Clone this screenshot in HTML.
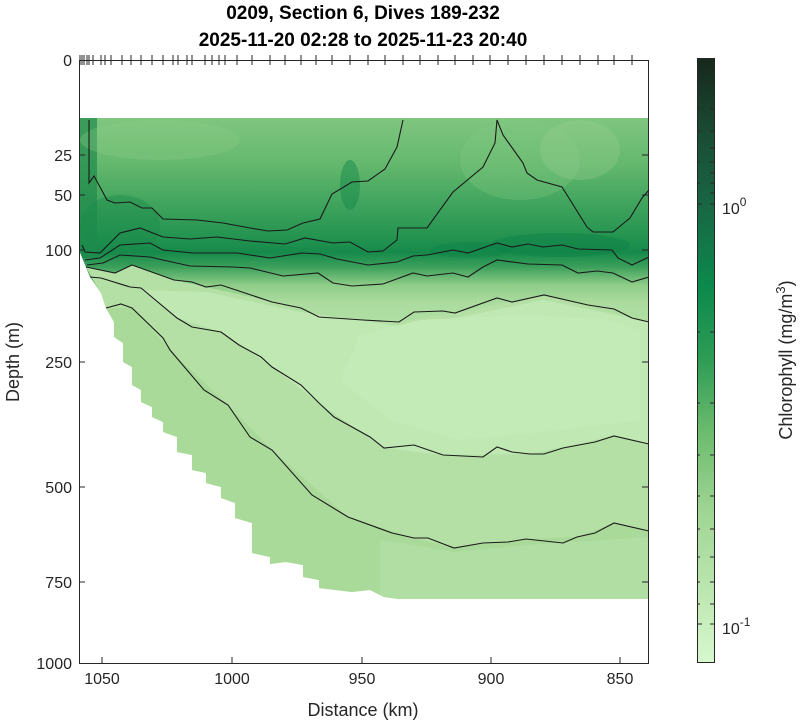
<!DOCTYPE html>
<html><head><meta charset="utf-8"><style>
html,body{margin:0;padding:0;background:#fff;}
svg{display:block;font-family:"Liberation Sans",Arial,sans-serif;}
</style></head><body>
<svg width="800" height="723" viewBox="0 0 800 723" xmlns="http://www.w3.org/2000/svg">
<defs>
<clipPath id="dc">
<polygon points="79,118 649,118 649,599 399,599 384,597 370,590 352,592 319,588 319,580 303,577 303,565 286,562 270,564 270,557 252,553 252,523 235,518 235,503 221,498 221,487 206,483 206,473 192,470 192,455 177,452 177,437 163,432 163,422 152,417 152,407 141,402 141,390 132,385 132,367 123,362 123,343 114,337 114,322 106,308 101,293 90,277 79,250"/>
</clipPath>
<linearGradient id="band" x1="0" y1="118" x2="0" y2="350" gradientUnits="userSpaceOnUse">
<stop offset="0" stop-color="#80c680"/>
<stop offset="0.2" stop-color="#64b86d"/>
<stop offset="0.35" stop-color="#44a65f"/>
<stop offset="0.5" stop-color="#269551"/>
<stop offset="0.58" stop-color="#168a4b"/>
<stop offset="0.64" stop-color="#3a9f5a"/>
<stop offset="0.72" stop-color="#8ecd88"/>
<stop offset="0.8" stop-color="#acdc9f"/>
<stop offset="1" stop-color="#b6e2a8"/>
</linearGradient>
<linearGradient id="cb" x1="0" y1="58" x2="0" y2="663" gradientUnits="userSpaceOnUse">
<stop offset="0" stop-color="#17271c"/>
<stop offset="0.12" stop-color="#1a4a32"/>
<stop offset="0.25" stop-color="#186844"/>
<stop offset="0.38" stop-color="#0c8a4c"/>
<stop offset="0.50" stop-color="#2f9c55"/>
<stop offset="0.62" stop-color="#6cbc6e"/>
<stop offset="0.75" stop-color="#9fd594"/>
<stop offset="0.88" stop-color="#bce6b0"/>
<stop offset="1" stop-color="#d8f8cf"/>
</linearGradient>
</defs>

<g clip-path="url(#dc)">
<rect x="79" y="118" width="570" height="482" fill="#a9da9a"/>
<rect x="79" y="118" width="570" height="232" fill="url(#band)"/>
<polygon fill="#b4e0a6" points="86,267 115,273 132,265 174,280 206,287 272,302 319,317 399,322 455,313 544,295 649,322 649,531 614,523 577,537 526,539 454,548 414,538 348,517 272,450 228,405 170,350 132,308 106,308 101,293"/>
<polygon fill="#bfe8b3" points="177,318 221,332 272,367 319,403 384,448 443,455 530,454 614,436 649,444 649,322 544,300 455,318 399,326 300,312 206,292 141,290"/>
<polygon fill="#c3ebb7" points="360,335 420,320 520,315 600,318 640,330 640,420 560,430 460,440 390,420 340,380"/>
<polygon fill="#a9da9a" points="0,300 106,308 132,308 170,350 228,405 272,450 312,495 348,517 414,538 454,548 526,539 577,537 614,523 649,531 649,700 0,700"/>
<polygon fill="#b1dea3" points="380,540 414,545 454,552 526,545 649,537 649,600 380,600"/>
<rect x="79" y="118" width="18" height="140" fill="#1f8a4c" opacity="0.7"/>
<ellipse cx="120" cy="225" rx="40" ry="30" fill="#1a8a4c" opacity="0.4"/>
<ellipse cx="350" cy="185" rx="10" ry="25" fill="#168a4c" opacity="0.5"/>
<ellipse cx="560" cy="245" rx="70" ry="12" fill="#0d8248" opacity="0.5"/>
<ellipse cx="470" cy="250" rx="40" ry="8" fill="#0d8248" opacity="0.4"/>
<ellipse cx="520" cy="160" rx="60" ry="40" fill="#86c983" opacity="0.3"/>
<ellipse cx="580" cy="150" rx="40" ry="30" fill="#9ad295" opacity="0.3"/>
<ellipse cx="160" cy="140" rx="80" ry="20" fill="#8fcc88" opacity="0.3"/>
</g>

<g fill="none" stroke="#1a1a1a" stroke-width="1.1">
<polyline points="89,120 89,183 94,176 100,187 107,200 115,203 130,202 142,208 152,208 163,219 197,220 223,223 250,228 268,231 287,230 303,223 320,219 332,194 352,182 368,181 385,169 397,147 403,120"/>
<polyline points="82,245 85,252 100,253 120,233 140,228 163,237 190,239 217,237 250,241 285,244 305,238 333,243 350,242 368,252 383,251 397,240 398,228 427,228 453,192 483,167 495,143 497,120 503,135 523,163 527,173 537,180 562,187 587,227 593,232 613,232 630,218 642,198 649,190"/>
<polyline points="85,260 100,258 120,245 150,243 163,250 193,253 237,253 270,258 302,253 320,254 337,259 368,265 397,262 413,256 427,255 453,250 468,253 497,243 512,247 528,244 543,247 562,245 578,249 612,250 618,258 632,265 649,257"/>
<polyline points="87,265 103,263 120,255 150,257 163,260 190,266 233,267 250,268 283,276 318,273 333,283 352,286 383,284 413,273 427,276 453,273 468,277 483,267 497,260 528,264 562,265 578,273 597,271 613,273 632,282 649,277"/>
<polyline points="86,267 115,273 132,265 174,280 192,282 206,287 221,285 272,302 301,308 319,317 363,320 399,322 414,312 443,311 455,313 497,298 512,302 544,295 588,305 614,309 632,318 649,322"/>
<polyline points="90,277 101,278 130,287 141,288 177,318 192,327 221,332 239,345 261,357 272,367 301,385 319,403 334,417 352,427 370,437 384,448 414,445 443,455 483,457 497,447 512,452 530,454 544,454 563,448 595,442 614,436 649,444"/>
<polyline points="106,308 121,304 132,308 163,338 170,350 204,390 228,405 250,437 272,450 312,495 348,517 392,533 414,538 428,538 454,548 483,543 508,542 526,539 563,543 577,537 595,533 614,523 649,531"/>
</g>

<rect x="79.5" y="60.5" width="569" height="603" fill="none" stroke="#262626" stroke-width="1"/>
<g stroke="#262626" stroke-width="1">
<line x1="79" y1="155" x2="85" y2="155"/><line x1="79" y1="195" x2="85" y2="195"/><line x1="79" y1="250" x2="85" y2="250"/><line x1="79" y1="362" x2="85" y2="362"/><line x1="79" y1="487" x2="85" y2="487"/><line x1="79" y1="582" x2="85" y2="582"/>
<line x1="642" y1="155" x2="648" y2="155"/><line x1="642" y1="195" x2="648" y2="195"/><line x1="642" y1="250" x2="648" y2="250"/><line x1="642" y1="362" x2="648" y2="362"/><line x1="642" y1="487" x2="648" y2="487"/><line x1="642" y1="582" x2="648" y2="582"/>
<line x1="102" y1="663" x2="102" y2="657"/><line x1="232" y1="663" x2="232" y2="657"/><line x1="362" y1="663" x2="362" y2="657"/><line x1="491" y1="663" x2="491" y2="657"/><line x1="620" y1="663" x2="620" y2="657"/>
</g>
<g stroke="#262626" stroke-width="1">
<line x1="80" y1="55" x2="80" y2="65"/><line x1="82" y1="55" x2="82" y2="65"/><line x1="84" y1="55" x2="84" y2="65"/><line x1="87" y1="55" x2="87" y2="65"/><line x1="89" y1="55" x2="89" y2="65"/><line x1="93" y1="55" x2="93" y2="65"/><line x1="101" y1="55" x2="101" y2="65"/><line x1="105" y1="55" x2="105" y2="65"/><line x1="111" y1="55" x2="111" y2="65"/><line x1="122" y1="55" x2="122" y2="65"/><line x1="131" y1="55" x2="131" y2="65"/><line x1="141" y1="55" x2="141" y2="65"/><line x1="152" y1="55" x2="152" y2="65"/><line x1="163" y1="55" x2="163" y2="65"/><line x1="173" y1="55" x2="173" y2="65"/><line x1="178" y1="55" x2="178" y2="65"/><line x1="187" y1="55" x2="187" y2="65"/><line x1="192" y1="55" x2="192" y2="65"/><line x1="205" y1="55" x2="205" y2="65"/><line x1="212" y1="55" x2="212" y2="65"/><line x1="219" y1="55" x2="219" y2="65"/><line x1="225" y1="55" x2="225" y2="65"/><line x1="237" y1="55" x2="237" y2="65"/><line x1="252" y1="55" x2="252" y2="65"/><line x1="270" y1="55" x2="270" y2="65"/><line x1="285" y1="55" x2="285" y2="65"/><line x1="301" y1="55" x2="301" y2="65"/><line x1="316" y1="55" x2="316" y2="65"/><line x1="332" y1="55" x2="332" y2="65"/><line x1="350" y1="55" x2="350" y2="65"/><line x1="368" y1="55" x2="368" y2="65"/><line x1="385" y1="55" x2="385" y2="65"/><line x1="403" y1="55" x2="403" y2="65"/><line x1="420" y1="55" x2="420" y2="65"/><line x1="438" y1="55" x2="438" y2="65"/><line x1="455" y1="55" x2="455" y2="65"/><line x1="473" y1="55" x2="473" y2="65"/><line x1="490" y1="55" x2="490" y2="65"/><line x1="508" y1="55" x2="508" y2="65"/><line x1="526" y1="55" x2="526" y2="65"/><line x1="544" y1="55" x2="544" y2="65"/><line x1="562" y1="55" x2="562" y2="65"/><line x1="580" y1="55" x2="580" y2="65"/><line x1="598" y1="55" x2="598" y2="65"/><line x1="614" y1="55" x2="614" y2="65"/><line x1="632" y1="55" x2="632" y2="65"/>
</g>

<g fill="#262626" font-size="16">
<text x="72" y="66" text-anchor="end">0</text>
<text x="72" y="161" text-anchor="end">25</text>
<text x="72" y="201" text-anchor="end">50</text>
<text x="72" y="256" text-anchor="end">100</text>
<text x="72" y="368" text-anchor="end">250</text>
<text x="72" y="493" text-anchor="end">500</text>
<text x="72" y="588" text-anchor="end">750</text>
<text x="72" y="669" text-anchor="end">1000</text>
<text x="102" y="684" text-anchor="middle">1050</text>
<text x="232" y="684" text-anchor="middle">1000</text>
<text x="362" y="684" text-anchor="middle">950</text>
<text x="491" y="684" text-anchor="middle">900</text>
<text x="620" y="684" text-anchor="middle">850</text>
</g>
<text x="363" y="716" text-anchor="middle" font-size="18" fill="#262626">Distance (km)</text>
<text transform="translate(19,362) rotate(-90)" text-anchor="middle" font-size="18" fill="#262626">Depth (m)</text>
<text x="363" y="19" text-anchor="middle" font-size="19" font-weight="bold" fill="#000">0209, Section 6, Dives 189-232</text>
<text x="363" y="46" text-anchor="middle" font-size="19" font-weight="bold" fill="#000">2025-11-20 02:28 to 2025-11-23 20:40</text>

<rect x="697.5" y="58.5" width="17" height="604" fill="url(#cb)" stroke="#262626" stroke-width="1"/>
<g stroke="#262626" stroke-width="1">
<line x1="697" y1="204" x2="702" y2="204"/><line x1="710" y1="204" x2="715" y2="204"/>
<line x1="697" y1="624" x2="702" y2="624"/><line x1="710" y1="624" x2="715" y2="624"/>
<line x1="710" y1="82" x2="715" y2="82"/><line x1="710" y1="109" x2="715" y2="109"/><line x1="710" y1="131" x2="715" y2="131"/><line x1="710" y1="148" x2="715" y2="148"/><line x1="710" y1="162" x2="715" y2="162"/><line x1="710" y1="173" x2="715" y2="173"/><line x1="710" y1="183" x2="715" y2="183"/><line x1="710" y1="193" x2="715" y2="193"/>
<line x1="710" y1="332" x2="715" y2="332"/><line x1="697" y1="332" x2="700" y2="332"/>
<line x1="710" y1="403" x2="715" y2="403"/><line x1="697" y1="403" x2="700" y2="403"/>
<line x1="710" y1="455" x2="715" y2="455"/><line x1="697" y1="455" x2="700" y2="455"/>
<line x1="710" y1="496" x2="715" y2="496"/><line x1="697" y1="496" x2="700" y2="496"/>
<line x1="710" y1="529" x2="715" y2="529"/><line x1="697" y1="529" x2="700" y2="529"/>
<line x1="710" y1="557" x2="715" y2="557"/><line x1="697" y1="557" x2="700" y2="557"/>
<line x1="710" y1="582" x2="715" y2="582"/><line x1="697" y1="582" x2="700" y2="582"/>
<line x1="710" y1="604" x2="715" y2="604"/><line x1="697" y1="604" x2="700" y2="604"/>
<line x1="697" y1="109" x2="700" y2="109"/><line x1="697" y1="131" x2="700" y2="131"/><line x1="697" y1="162" x2="700" y2="162"/><line x1="697" y1="183" x2="700" y2="183"/>
</g>
<text x="722" y="214" font-size="16" fill="#262626">10<tspan dy="-8" font-size="12">0</tspan></text>
<text x="722" y="634" font-size="16" fill="#262626">10<tspan dy="-8" font-size="12">-1</tspan></text>
<text transform="translate(792,360) rotate(-90)" text-anchor="middle" font-size="18" fill="#262626">Chlorophyll (mg/m<tspan dy="-7" font-size="13">3</tspan><tspan dy="7">)</tspan></text>
</svg>
</body></html>
